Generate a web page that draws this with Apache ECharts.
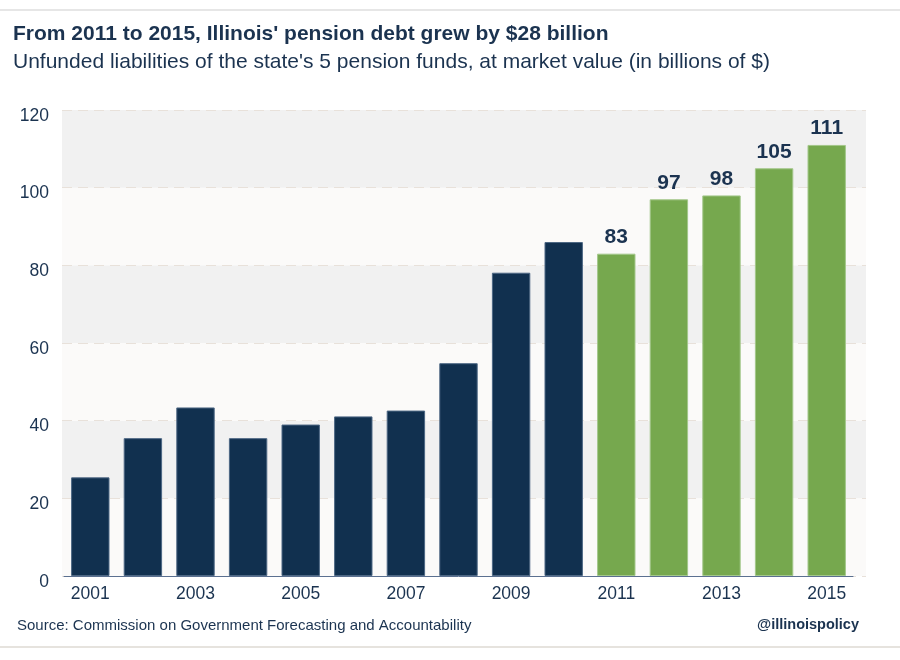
<!DOCTYPE html>
<html>
<head>
<meta charset="utf-8">
<script src="https://cdn.jsdelivr.net/npm/echarts@6/dist/echarts.min.js"></script>
<style>html,body{margin:0;padding:0;background:#fff;}#c{width:900px;height:660px;}</style>
</head>
<body>
<div id="c"></div>
<script>
const years = ['2001','2002','2003','2004','2005','2006','2007','2008','2009','2010','2011','2012','2013','2014','2015'];
const pastValues = [25.4, 35.5, 43.4, 35.5, 39.0, 41.1, 42.6, 54.8, 78.1, 86.0, '-', '-', '-', '-', '-'];
const recentValues = ['-', '-', '-', '-', '-', '-', '-', '-', '-', '-', 83, 97, 98, 105, 111];
const yTicks = [0, 20, 40, 60, 80, 100, 120];

const navy = '#11304f';
const green = '#76a84e';
const textColor = '#1b3350';
const font = 'Liberation Sans';

const chart = echarts.init(document.getElementById('c'), null, {renderer: 'canvas'});
chart.setOption({
  backgroundColor: '#ffffff',
  animation: false,
  textStyle: {fontFamily: font},
  title: {
    text: "From 2011 to 2015, Illinois' pension debt grew by $28 billion",
    subtext: "Unfunded liabilities of the state's 5 pension funds, at market value (in billions of $)",
    left: 8, top: 19, itemGap: 7,
    textStyle: {fontFamily: font, fontSize: 21, fontWeight: 'bold', color: textColor},
    subtextStyle: {fontFamily: font, fontSize: 21, color: textColor}
  },
  grid: [
    {left: 62, right: 34, top: 110, bottom: 84},
    {left: 64, right: 47, top: 110, bottom: 84}
  ],
  xAxis: [
    {gridIndex: 0, type: 'value', min: 0, max: 1, show: false},
    {gridIndex: 1, type: 'category', data: years,
     axisLine: {lineStyle: {color: '#5b7090', width: 1}},
     axisTick: {show: false},
     axisLabel: {interval: 1, color: textColor, fontSize: 17.5, margin: 9, fontFamily: font}}
  ],
  yAxis: [
    {gridIndex: 0, type: 'value', min: yTicks[0], max: yTicks[yTicks.length-1], interval: 20,
     axisLine: {show: false}, axisTick: {show: false},
     axisLabel: {color: textColor, fontSize: 17.5, margin: 13, fontFamily: font, verticalAlign: 'top', padding: [-3,0,0,0]},
     splitLine: {show: true, lineStyle: {color: '#e8e1da', type: [10, 6], width: 1}},
     splitArea: {show: true, areaStyle: {color: ['#fbfaf9', '#f1f1f1']}}},
    {gridIndex: 1, type: 'value', min: 0, max: 120, interval: 20, show: false, splitLine: {show: false}}
  ],
  series: [
    {type: 'bar', xAxisIndex: 1, yAxisIndex: 1, data: pastValues, barCategoryGap: '27%', barGap: '-100%',
     itemStyle: {color: navy, borderColor: '#4d6784', borderWidth: 1}},
    {type: 'bar', xAxisIndex: 1, yAxisIndex: 1, data: recentValues, barCategoryGap: '27%', barGap: '-100%',
     itemStyle: {color: green, borderColor: '#a3c78a', borderWidth: 1},
     label: {show: true, position: 'top', distance: 6, color: textColor, fontSize: 21, fontWeight: 'bold', fontFamily: font}}
  ],
  graphic: [
    {type: 'line', shape: {x1: 0, y1: 10, x2: 900, y2: 10}, style: {stroke: '#e6e6e6', lineWidth: 2}},
    {type: 'line', shape: {x1: 0, y1: 647, x2: 900, y2: 647}, style: {stroke: '#e6e3de', lineWidth: 2}},
    {type: 'text', left: 17, top: 618, style: {text: 'Source: Commission on Government Forecasting and Accountability', fill: textColor, fontSize: 15, fontFamily: font}},
    {type: 'text', right: 41, top: 617, style: {text: '@illinoispolicy', fill: textColor, fontSize: 14.5, fontWeight: 'bold', fontFamily: font}}
  ]
});
</script>
</body>
</html>
